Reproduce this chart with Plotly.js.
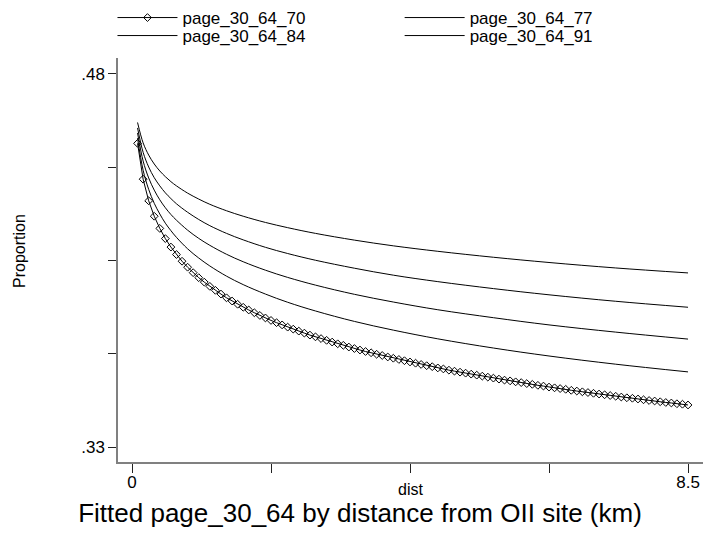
<!DOCTYPE html>
<html>
<head>
<meta charset="utf-8">
<script src="https://cdn.plot.ly/plotly-3.0.1.min.js"></script>
<style>html,body{margin:0;padding:0;background:#fff;}#chart{width:703px;height:535px;}</style>
</head>
<body>
<div id="chart"></div>
<script>
// distance grid (km) of the diamond series
const dist = [0.085,0.17,0.255,0.34,0.425,0.51,0.595,0.68,0.765,0.85,
0.935,1.02,1.105,1.19,1.275,1.36,1.445,1.53,1.615,1.7,
1.785,1.87,1.955,2.04,2.125,2.21,2.295,2.38,2.465,2.55,
2.635,2.72,2.805,2.89,2.975,3.06,3.145,3.23,3.315,3.4,
3.485,3.57,3.655,3.74,3.825,3.91,3.995,4.08,4.165,4.25,
4.335,4.42,4.505,4.59,4.675,4.76,4.845,4.93,5.015,5.1,
5.185,5.27,5.355,5.44,5.525,5.61,5.695,5.78,5.865,5.95,
6.035,6.12,6.205,6.29,6.375,6.46,6.545,6.63,6.715,6.8,
6.885,6.97,7.055,7.14,7.225,7.31,7.395,7.48,7.565,7.65,
7.735,7.82,7.905,7.99,8.075,8.16,8.245,8.33,8.415,8.5];
const p70 = [0.4521,0.4377,0.4290,0.4228,0.4179,0.4138,0.4104,0.4074,0.4047,0.4023,
0.4001,0.3981,0.3963,0.3946,0.3930,0.3915,0.3900,0.3887,0.3874,0.3862,
0.3851,0.3840,0.3829,0.3819,0.3809,0.3800,0.3791,0.3782,0.3774,0.3766,
0.3758,0.3750,0.3743,0.3736,0.3729,0.3722,0.3715,0.3709,0.3702,0.3696,
0.3690,0.3684,0.3679,0.3673,0.3668,0.3662,0.3657,0.3652,0.3647,0.3642,
0.3637,0.3632,0.3627,0.3623,0.3618,0.3614,0.3609,0.3605,0.3601,0.3597,
0.3593,0.3589,0.3585,0.3581,0.3577,0.3573,0.3569,0.3566,0.3562,0.3559,
0.3555,0.3552,0.3548,0.3545,0.3541,0.3538,0.3535,0.3532,0.3528,0.3525,
0.3522,0.3519,0.3516,0.3513,0.3510,0.3507,0.3504,0.3501,0.3498,0.3496,
0.3493,0.3490,0.3487,0.3485,0.3482,0.3479,0.3477,0.3474,0.3472,0.3469];

// distances read for the plain line series
const distLine = [0.085,0.17,0.255,0.34,0.425,0.51,0.595,0.68,0.85,1.02,1.19,1.445,1.7,
2.04,2.38,2.805,3.4,3.995,4.675,5.525,6.375,7.395,8.5];
const p77 = [0.4542,0.4413,0.4336,0.4280,0.4237,0.4200,0.4170,0.4143,0.4097,0.4060,0.4028,0.3987,0.3953,
0.3915,0.3882,0.3847,0.3805,0.3770,0.3735,0.3698,0.3666,0.3633,0.3602];
const p84 = [0.4563,0.4450,0.4382,0.4333,0.4294,0.4262,0.4235,0.4212,0.4172,0.4139,0.4111,0.4075,0.4045,
0.4011,0.3982,0.3951,0.3914,0.3883,0.3852,0.3820,0.3791,0.3762,0.3734];
const p91 = [0.4583,0.4485,0.4426,0.4383,0.4350,0.4322,0.4299,0.4278,0.4244,0.4215,0.4190,0.4159,0.4133,
0.4103,0.4078,0.4051,0.4019,0.3991,0.3965,0.3937,0.3912,0.3886,0.3862];
const pTop = [0.4605,0.4523,0.4474,0.4438,0.4410,0.4387,0.4367,0.4350,0.4321,0.4297,0.4276,0.4250,0.4228,
0.4203,0.4182,0.4159,0.4132,0.4109,0.4087,0.4063,0.4042,0.4020,0.4000];

const xTickVals = [0, 2.125, 4.25, 6.375, 8.5];
const xTickText = ['0', '', '', '', '8.5'];
const yTickVals = [0.33, 0.3675, 0.405, 0.4425, 0.48];
const yTickText = ['.33', '', '', '', '.48'];

const lineStyle = {color: '#000', width: 1.0};
const traces = [
  {x: dist, y: p70, name: 'page_30_64_70', type: 'scatter', mode: 'lines+markers',
   line: lineStyle, marker: {symbol: 'diamond-open', size: 6, color: '#000', line: {width: 1, color: '#000'}},
   legend: 'legend'},
  {x: distLine, y: p77, name: 'page_30_64_77', type: 'scatter', mode: 'lines',
   line: Object.assign({shape: 'spline'}, lineStyle), legend: 'legend2'},
  {x: distLine, y: p84, name: 'page_30_64_84', type: 'scatter', mode: 'lines',
   line: Object.assign({shape: 'spline'}, lineStyle), legend: 'legend3'},
  {x: distLine, y: p91, name: 'page_30_64_91', type: 'scatter', mode: 'lines',
   line: Object.assign({shape: 'spline'}, lineStyle), legend: 'legend4'},
  {x: distLine, y: pTop, name: '', type: 'scatter', mode: 'lines',
   line: Object.assign({shape: 'spline'}, lineStyle), showlegend: false}
];

const legendCommon = {
  orientation: 'v', xref: 'container', yref: 'container', xanchor: 'left', yanchor: 'top',
  itemwidth: 60, bgcolor: 'rgba(0,0,0,0)', borderwidth: 0, tracegroupgap: 0,
  font: {size: 17, color: '#000'}, itemclick: false, itemdoubleclick: false
};
const col1 = 0.16, col2 = 0.5685, row1 = 1 - 0/535, row2 = 1 - 18/535;

const layout = {
  width: 703, height: 535,
  margin: {l: 118, r: 0, t: 58, b: 73, autoexpand: false},
  paper_bgcolor: '#fff', plot_bgcolor: '#fff',
  font: {family: 'Liberation Sans, Arial, sans-serif', color: '#000'},
  showlegend: true,
  legend: Object.assign({}, legendCommon, {x: col1, y: row1}),
  legend2: Object.assign({}, legendCommon, {x: col2, y: row1}),
  legend3: Object.assign({}, legendCommon, {x: col1, y: row2}),
  legend4: Object.assign({}, legendCommon, {x: col2, y: row2}),
  title: {text: 'Fitted page_30_64 by distance from OII site (km)', font: {size: 26, color: '#000'},
          xref: 'container', x: 360/703, xanchor: 'center', yref: 'container', y: 1 - 513/535, yanchor: 'middle'},
  xaxis: {range: [-0.214, 8.729], tickmode: 'array', tickvals: xTickVals, ticktext: xTickText,
          ticks: 'outside', ticklen: 9, tickwidth: 1, tickcolor: '#222', showline: true, linecolor: '#808080',
          linewidth: 1.6, showgrid: false, zeroline: false, tickfont: {size: 17}, ticklabelstandoff: -5,
          fixedrange: true},
  yaxis: {range: [0.32397, 0.48643], tickmode: 'array', tickvals: yTickVals, ticktext: yTickText,
          ticks: 'outside', ticklen: 8, tickwidth: 1, tickcolor: '#222', showline: true, linecolor: '#808080',
          linewidth: 1.6, showgrid: false, zeroline: false, tickfont: {size: 17}, fixedrange: true},
  annotations: [
    {text: 'dist', xref: 'paper', yref: 'paper', x: 0.5, y: -(489 - 462) / 404, xanchor: 'center', yanchor: 'middle',
     showarrow: false, font: {size: 16, color: '#000'}},
    {text: 'Proportion', xref: 'paper', yref: 'paper', x: (19 - 118) / 585, y: (462 - 251) / 404,
     xanchor: 'center', yanchor: 'middle', textangle: -90, showarrow: false, font: {size: 16, color: '#000'}}
  ]
};

Plotly.newPlot('chart', traces, layout, {displayModeBar: false, staticPlot: true});
</script>
</body>
</html>
